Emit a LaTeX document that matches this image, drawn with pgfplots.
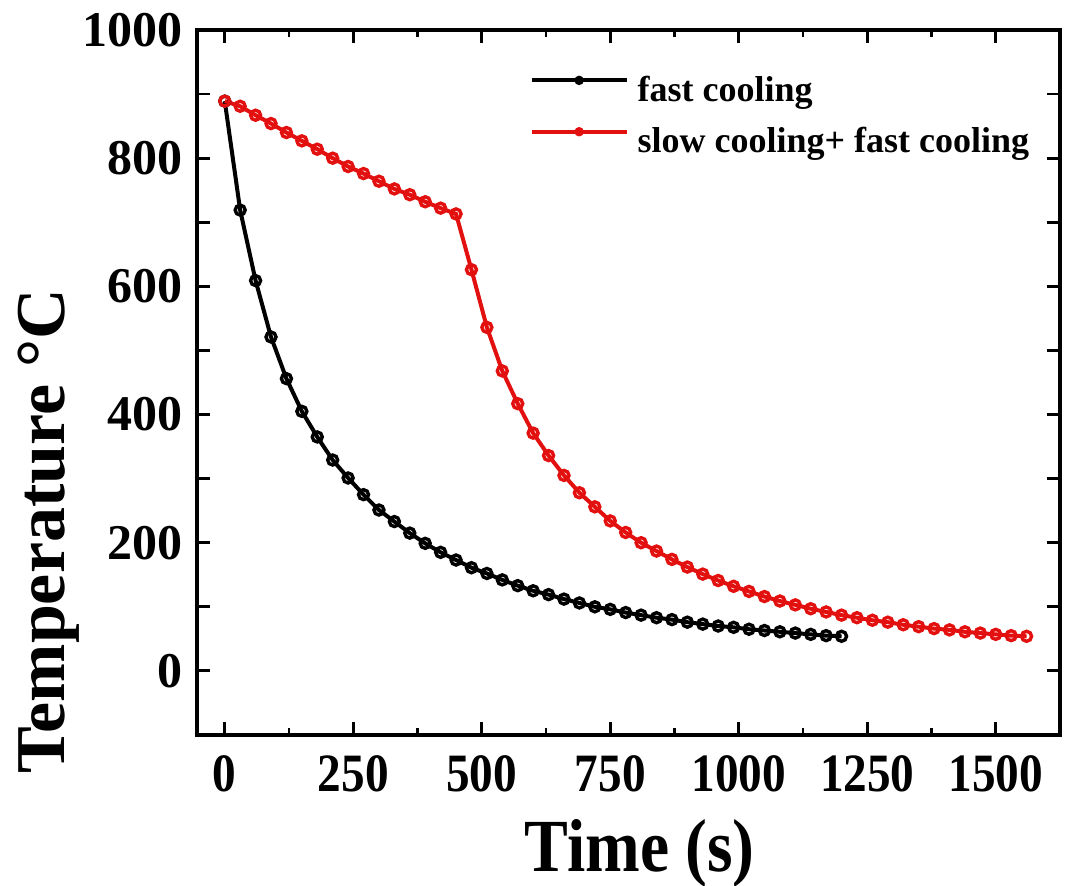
\documentclass[border=0pt]{standalone}
\usepackage{fontspec}
\setmainfont{Liberation Serif}
\newfontfamily\narrowfont[FakeStretch=0.875]{Liberation Serif}
\usepackage{pgfplots}
\pgfplotsset{compat=1.18}
\definecolor{curvered}{HTML}{E31010}

\pgfplotstableread{
t T
0 889
30 719
60 609
90 521
120 456
150 405
180 365
210 329
240 301
270 275
300 251
330 233
360 215
390 199
420 185
450 173
480 161
510 152
540 142
570 133
600 125
630 119
660 112
690 106
720 100
750 96
780 91
810 87
840 83
870 80
900 76
930 73
960 70
990 68
1020 65
1050 63
1080 61
1110 59
1140 57
1170 55
1200 54
}\fastcooling

\pgfplotstableread{
t T
0 889
30 881
60 867
90 854
120 840
150 827
180 814
210 800
240 787
270 776
300 764
330 752
360 743
390 732
420 722
450 713
480 626
510 536
540 468
570 417
600 371
630 336
660 305
690 278
720 256
750 234
780 216
810 200
840 187
870 174
900 162
930 151
960 141
990 132
1020 124
1050 116
1080 109
1110 103
1140 97
1170 92
1200 87
1230 83
1260 79
1290 76
1320 72
1350 69
1380 66
1410 64
1440 61
1470 59
1500 57
1530 55
1560 54
}\slowfast

\begin{document}
\begin{tikzpicture}
\begin{axis}[
  scale only axis,
  width=431.5pt, height=352.5pt,
  xmin=-54, xmax=1625,
  ymin=-100, ymax=1000,
  axis line style={line width=1.6pt},
  every tick/.style={black, line width=1.4pt},
  tick align=inside,
  major tick length=6.5pt, minor tick length=3.5pt,
  xtick={0,250,...,1500},
  minor x tick num=1,
  ytick={-100,0,100,...,1000},
  yticklabels={,0,,200,,400,,600,,800,,1000},
  /pgf/number format/assume math mode=true,
  /pgf/number format/set thousands separator={},
  xticklabel style={font=\narrowfont\bfseries\fontsize{27}{27}\selectfont,
                    inner sep=0pt, yshift=-10pt},
  yticklabel style={font=\bfseries\fontsize{25}{25}\selectfont,
                    inner sep=0pt, xshift=-7pt},
  xlabel={Time (s)},
  xlabel style={font=\narrowfont\bfseries\fontsize{37.5}{37.5}\selectfont,
                at={(axis description cs:0.513,0)}, anchor=base, yshift=-68.5pt,
                inner sep=0pt},
  ylabel={Temperature °C},
  ylabel style={font=\bfseries\fontsize{35}{35}\selectfont,
                at={(axis description cs:-0.153,0.289)}, anchor=base,
                inner sep=0pt},
  legend style={at={(axis description cs:0.385,0.935)}, anchor=north west,
                draw=none, fill=none, inner sep=0pt, row sep=11.5pt,
                column sep=4.5pt,
                font=\bfseries\fontsize{18}{18}\selectfont,
                nodes={inner sep=0pt}},
  legend cell align=left,
  legend image code/.code={
    \draw[mark repeat=2, mark phase=2, #1, mark size=1.3pt,
          mark options={fill=.}]
      plot coordinates {(0pt,5pt) (23.75pt,5pt) (47.5pt,5pt)};
  },
]
\addplot[black, line width=2pt, mark=o, mark size=2.5pt,
  mark options={line width=1.7pt, fill=white, solid}]
  table[x=t, y=T] {\fastcooling};
\addlegendentry{fast cooling}
\addplot[curvered, line width=2pt, mark=o, mark size=2.5pt,
  mark options={line width=1.7pt, fill=white, solid}]
  table[x=t, y=T] {\slowfast};
\addlegendentry{slow cooling+ fast cooling}
\end{axis}
\pgfresetboundingbox
\path[use as bounding box]
  ([shift={(-98.5pt,-75.5pt)}]current axis.south west) rectangle
  ([shift={(3.5pt,15pt)}]current axis.north east);
\end{tikzpicture}
\end{document}
